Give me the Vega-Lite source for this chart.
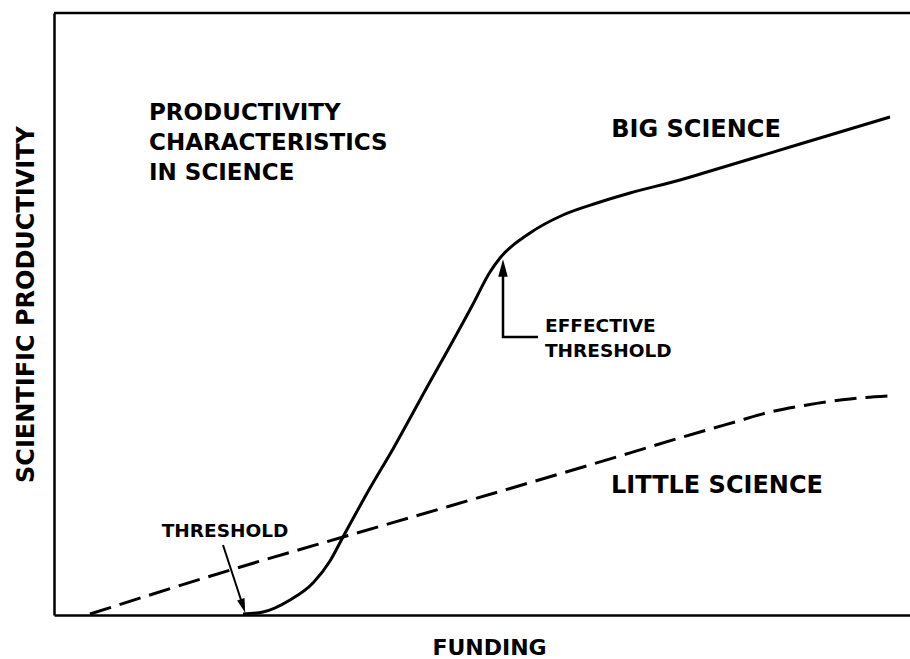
{
  "$schema": "https://vega.github.io/schema/vega-lite/v6.json",
  "width": 856,
  "height": 602,
  "autosize": "none",
  "padding": {"left": 54, "top": 13, "right": 0, "bottom": 44},
  "background": "white",
  "config": {"view": {"stroke": null}, "font": "DejaVu Sans"},
  "datasets": {
    "big": [
      {"x": 189, "y": 1}, {"x": 209, "y": 3}, {"x": 236, "y": 15}, {"x": 259, "y": 32},
      {"x": 276, "y": 54}, {"x": 289, "y": 78}, {"x": 316, "y": 127}, {"x": 339, "y": 166},
      {"x": 366, "y": 215}, {"x": 418, "y": 309}, {"x": 436, "y": 343}, {"x": 446, "y": 357},
      {"x": 476, "y": 382}, {"x": 509, "y": 400}, {"x": 543, "y": 412}, {"x": 576, "y": 422},
      {"x": 626, "y": 435}, {"x": 653, "y": 443}, {"x": 746, "y": 471}, {"x": 836, "y": 498}
    ],
    "little": [
      {"x": 36, "y": 1}, {"x": 183, "y": 47}, {"x": 289, "y": 78}, {"x": 396, "y": 109},
      {"x": 529, "y": 148}, {"x": 646, "y": 183}, {"x": 681, "y": 193}, {"x": 716, "y": 203},
      {"x": 753, "y": 210}, {"x": 796, "y": 216}, {"x": 834, "y": 219}
    ],
    "effArrow": [
      {"x": 484, "y": 278, "ord": 1}, {"x": 449, "y": 278, "ord": 2}, {"x": 449, "y": 348, "ord": 3}
    ],
    "effHead": [{"x": 449, "y": 347}],
    "thrArrow": [{"x": 169, "y": 70, "x2": 189, "y2": 9}],
    "thrHead": [{"x": 189, "y": 9}],
    "topFrame": [{"x": 0, "x2": 856, "y": 602}],
    "bigText": [
      {"x": 95, "y": 495, "label": "PRODUCTIVITY"},
      {"x": 95, "y": 465, "label": "CHARACTERISTICS"},
      {"x": 95, "y": 435, "label": "IN SCIENCE"}
    ],
    "centerText": [
      {"x": 642, "y": 478, "label": "BIG SCIENCE"},
      {"x": 663, "y": 122, "label": "LITTLE SCIENCE"}
    ],
    "smallLeftText": [
      {"x": 491, "y": 283, "label": "EFFECTIVE"},
      {"x": 491, "y": 258, "label": "THRESHOLD"}
    ],
    "smallCenterText": [
      {"x": 171, "y": 78, "label": "THRESHOLD"}
    ]
  },
  "encoding": {
    "x": {
      "field": "x", "type": "quantitative",
      "scale": {"domain": [0, 856], "nice": false, "zero": false},
      "axis": {
        "title": "FUNDING", "labels": false, "ticks": false, "grid": false,
        "domain": true, "domainColor": "black", "domainWidth": 2.5,
        "titleFont": "DejaVu Sans", "titleFontSize": 22, "titleFontWeight": "bold", "titleColor": "black",
        "titleX": 435, "titleY": 39, "titleAlign": "center", "titleBaseline": "alphabetic"
      }
    },
    "y": {
      "field": "y", "type": "quantitative",
      "scale": {"domain": [0, 602], "nice": false, "zero": false},
      "axis": {
        "title": "SCIENTIFIC PRODUCTIVITY", "labels": false, "ticks": false, "grid": false,
        "domain": true, "domainColor": "black", "domainWidth": 2.5,
        "titleFont": "DejaVu Sans", "titleFontSize": 24, "titleFontWeight": "bold", "titleColor": "black",
        "titleAngle": 270, "titleX": -21, "titleY": 291, "titleAlign": "center", "titleBaseline": "alphabetic"
      }
    }
  },
  "layer": [
    {
      "data": {"name": "topFrame"},
      "mark": {"type": "rule", "color": "black", "strokeWidth": 2.5},
      "encoding": {"x2": {"field": "x2"}}
    },
    {
      "data": {"name": "big"},
      "mark": {"type": "line", "color": "black", "strokeWidth": 3, "interpolate": "monotone"},
      "encoding": {}
    },
    {
      "data": {"name": "little"},
      "mark": {"type": "line", "color": "black", "strokeWidth": 3, "interpolate": "monotone", "strokeDash": [22, 9]},
      "encoding": {}
    },
    {
      "data": {"name": "effArrow"},
      "mark": {"type": "line", "color": "black", "strokeWidth": 2.5},
      "encoding": {"order": {"field": "ord", "type": "quantitative"}}
    },
    {
      "data": {"name": "effHead"},
      "mark": {"type": "point", "shape": "M0,-1L0.55,1L-0.55,1Z", "filled": true, "color": "black", "opacity": 1, "size": 300, "angle": 0}
    },
    {
      "data": {"name": "thrArrow"},
      "mark": {"type": "rule", "color": "black", "strokeWidth": 2},
      "encoding": {"x2": {"field": "x2"}, "y2": {"field": "y2"}}
    },
    {
      "data": {"name": "thrHead"},
      "mark": {"type": "point", "shape": "M0,-1L0.55,1L-0.55,1Z", "filled": true, "color": "black", "opacity": 1, "size": 200, "angle": 162}
    },
    {
      "data": {"name": "bigText"},
      "mark": {"type": "text", "align": "left", "baseline": "alphabetic", "fontSize": 23, "fontWeight": "bold", "font": "DejaVu Sans", "color": "black"},
      "encoding": {"text": {"field": "label"}}
    },
    {
      "data": {"name": "centerText"},
      "mark": {"type": "text", "align": "center", "baseline": "alphabetic", "fontSize": 24, "fontWeight": "bold", "font": "DejaVu Sans", "color": "black"},
      "encoding": {"text": {"field": "label"}}
    },
    {
      "data": {"name": "smallLeftText"},
      "mark": {"type": "text", "align": "left", "baseline": "alphabetic", "fontSize": 18.5, "fontWeight": "bold", "font": "DejaVu Sans", "color": "black"},
      "encoding": {"text": {"field": "label"}}
    },
    {
      "data": {"name": "smallCenterText"},
      "mark": {"type": "text", "align": "center", "baseline": "alphabetic", "fontSize": 18.5, "fontWeight": "bold", "font": "DejaVu Sans", "color": "black"},
      "encoding": {"text": {"field": "label"}}
    }
  ]
}
